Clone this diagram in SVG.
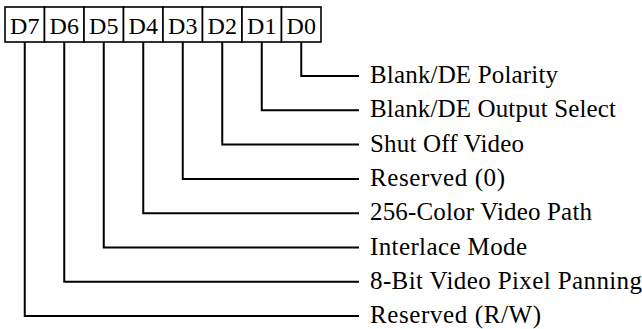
<svg xmlns="http://www.w3.org/2000/svg" width="642" height="329" viewBox="0 0 642 329">
<style>
.cell{fill:#fff;stroke:#000;stroke-width:1.6}
.bit{font-family:"Liberation Serif","Times New Roman",serif;font-size:24px;fill:#000;text-anchor:middle}
.lbl{font-family:"Liberation Serif","Times New Roman",serif;font-size:25px;fill:#000}
.wire{fill:none;stroke:#000;stroke-width:2}
</style>
<rect width="642" height="329" fill="#fff"/>
<g id="register">
<g id="D7"><rect class="cell" x="5" y="7" width="39.5" height="35"/><text class="bit" x="24.75" y="33.5">D7</text></g>
<g id="D6"><rect class="cell" x="44.5" y="7" width="39.5" height="35"/><text class="bit" x="64.25" y="33.5">D6</text></g>
<g id="D5"><rect class="cell" x="84" y="7" width="39.5" height="35"/><text class="bit" x="103.75" y="33.5">D5</text></g>
<g id="D4"><rect class="cell" x="123.5" y="7" width="39.5" height="35"/><text class="bit" x="143.25" y="33.5">D4</text></g>
<g id="D3"><rect class="cell" x="163" y="7" width="39.5" height="35"/><text class="bit" x="182.75" y="33.5">D3</text></g>
<g id="D2"><rect class="cell" x="202.5" y="7" width="39.5" height="35"/><text class="bit" x="222.25" y="33.5">D2</text></g>
<g id="D1"><rect class="cell" x="242" y="7" width="39.5" height="35"/><text class="bit" x="261.75" y="33.5">D1</text></g>
<g id="D0"><rect class="cell" x="281.5" y="7" width="39.5" height="35"/><text class="bit" x="301.25" y="33.5">D0</text></g>
</g>
<g id="connectors">
<polyline class="wire" points="301.25,42 301.25,76 359,76"/>
<polyline class="wire" points="261.75,42 261.75,110.3 359,110.3"/>
<polyline class="wire" points="222.25,42 222.25,144.6 359,144.6"/>
<polyline class="wire" points="182.75,42 182.75,178.9 359,178.9"/>
<polyline class="wire" points="143.25,42 143.25,213.2 359,213.2"/>
<polyline class="wire" points="103.75,42 103.75,247.5 359,247.5"/>
<polyline class="wire" points="64.25,42 64.25,281.8 359,281.8"/>
<polyline class="wire" points="24.75,42 24.75,316.1 359,316.1"/>
</g>
<g id="labels">
<text id="l0" class="lbl" x="370" y="83" textLength="188" lengthAdjust="spacing">Blank/DE Polarity</text>
<text id="l1" class="lbl" x="370" y="117.3" textLength="246" lengthAdjust="spacing">Blank/DE Output Select</text>
<text id="l2" class="lbl" x="370" y="151.6" textLength="154" lengthAdjust="spacing">Shut Off Video</text>
<text id="l3" class="lbl" x="370" y="185.9" textLength="135" lengthAdjust="spacing">Reserved (0)</text>
<text id="l4" class="lbl" x="370" y="220.2" textLength="222" lengthAdjust="spacing">256-Color Video Path</text>
<text id="l5" class="lbl" x="370" y="254.5" textLength="157" lengthAdjust="spacing">Interlace Mode</text>
<text id="l6" class="lbl" x="370" y="288.8" textLength="272" lengthAdjust="spacing">8-Bit Video Pixel Panning</text>
<text id="l7" class="lbl" x="370" y="323.1" textLength="171" lengthAdjust="spacing">Reserved (R/W)</text>
</g>
</svg>
